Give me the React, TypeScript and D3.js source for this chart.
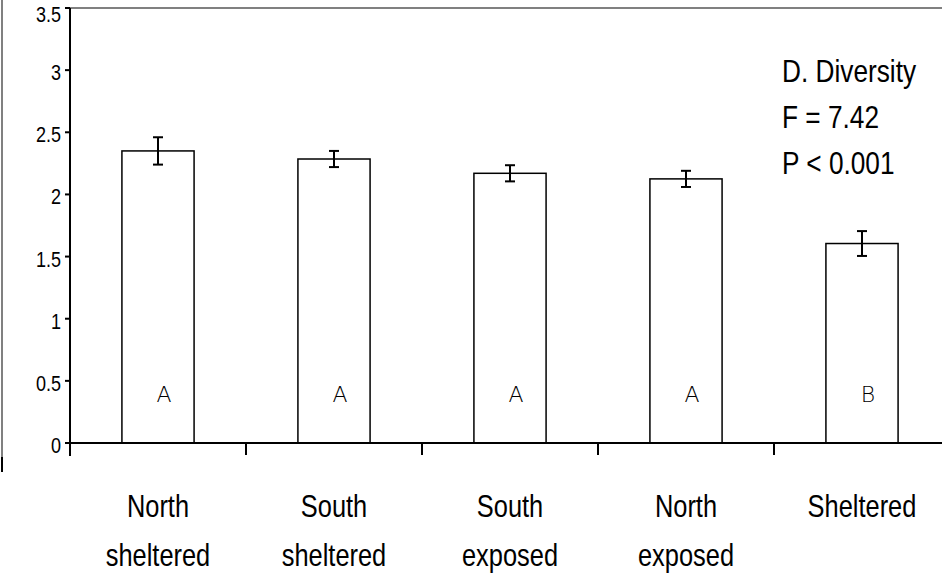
import * as d3 from "d3";

// chart values
const categories = ["North sheltered", "South sheltered", "South exposed", "North exposed", "Sheltered"];
const categoryLines = [["North", "sheltered"], ["South", "sheltered"], ["South", "exposed"], ["North", "exposed"], ["Sheltered"]];
const means = [2.35, 2.285, 2.17, 2.125, 1.605];
const errors = [0.11, 0.065, 0.065, 0.065, 0.1];
const groups = ["A", "A", "A", "A", "B"];
const yTicks = [0, 0.5, 1, 1.5, 2, 2.5, 3, 3.5];
const notes = ["D. Diversity", "F = 7.42", "P < 0.001"];

const W = 942;
const H = 577;
const sans = "'Liberation Sans', Arial, sans-serif";

// no narrow font installed, so squeeze Liberation Sans horizontally
const NText = ({ x, y, size, anchor = "start", children }: any) => (
	<g transform={`translate(${x},${y}) scale(0.82,1)`}>
		<text x={0} y={0} textAnchor={anchor} fontFamily={sans} fontSize={size}>
			{children}
		</text>
	</g>
);

const App = () => {
	const y = d3.scaleLinear().domain([0, 3.5]).range([443, 8]);
	const x = d3.scaleBand().domain(categories).range([70, 950]).padding(0);
	const barW = x.bandwidth() * 0.41;

	return (
		<svg width={W} height={H} style={{ position: "absolute", left: 0, top: 0, background: "#fff" }}>
			{/* outer frame bits */}
			<line x1={70} x2={W} y1={8} y2={8} stroke="#808080" strokeWidth={2} />
			<line x1={2} x2={2} y1={0} y2={457} stroke="#808080" strokeWidth={2} />
			<line x1={2} x2={2} y1={457} y2={472} stroke="#000" strokeWidth={2} />

			{/* bars */}
			{categories.map((c, i) => {
				const cx = x(c)! + x.bandwidth() / 2;
				const hi = y(means[i] + errors[i]);
				const lo = y(means[i] - errors[i]);
				return (
					<g key={c}>
						<rect
							x={cx - barW / 2}
							y={y(means[i])}
							width={barW}
							height={y(0) - y(means[i])}
							fill="#fff"
							stroke="#000"
							strokeWidth={1.5}
						/>
						<line x1={cx} x2={cx} y1={hi} y2={lo} stroke="#000" strokeWidth={2} />
						<line x1={cx - 5} x2={cx + 5} y1={hi} y2={hi} stroke="#000" strokeWidth={2} />
						<line x1={cx - 5} x2={cx + 5} y1={lo} y2={lo} stroke="#000" strokeWidth={2} />
						<text x={cx + 6} y={402} textAnchor="middle" fontFamily="'DejaVu Sans', sans-serif" fontSize={22} fontWeight={200} fill="#000">
							{groups[i]}
						</text>
						{categoryLines[i].map((t, j) => (
							<NText key={j} x={cx} y={517 + j * 49} size={31} anchor="middle">
								{t}
							</NText>
						))}
					</g>
				);
			})}

			{/* y axis */}
			<line x1={70} x2={70} y1={8} y2={456} stroke="#000" strokeWidth={2} />
			{yTicks.map((t) => (
				<g key={t}>
					<line x1={65} x2={70} y1={y(t)} y2={y(t)} stroke="#000" strokeWidth={2} />
					<NText x={61} y={Math.max(y(t) + 10, 22)} size={22} anchor="end">
						{String(t)}
					</NText>
				</g>
			))}

			{/* x axis */}
			<line x1={70} x2={W} y1={443} y2={443} stroke="#000" strokeWidth={2} />
			{categories.slice(1).map((c) => (
				<line key={c} x1={x(c)!} x2={x(c)!} y1={443} y2={455} stroke="#000" strokeWidth={2} />
			))}

			{/* annotation */}
			{notes.map((n, i) => (
				<NText key={n} x={782} y={82 + i * 46} size={32}>
					{n}
				</NText>
			))}
		</svg>
	);
};

export default App;
